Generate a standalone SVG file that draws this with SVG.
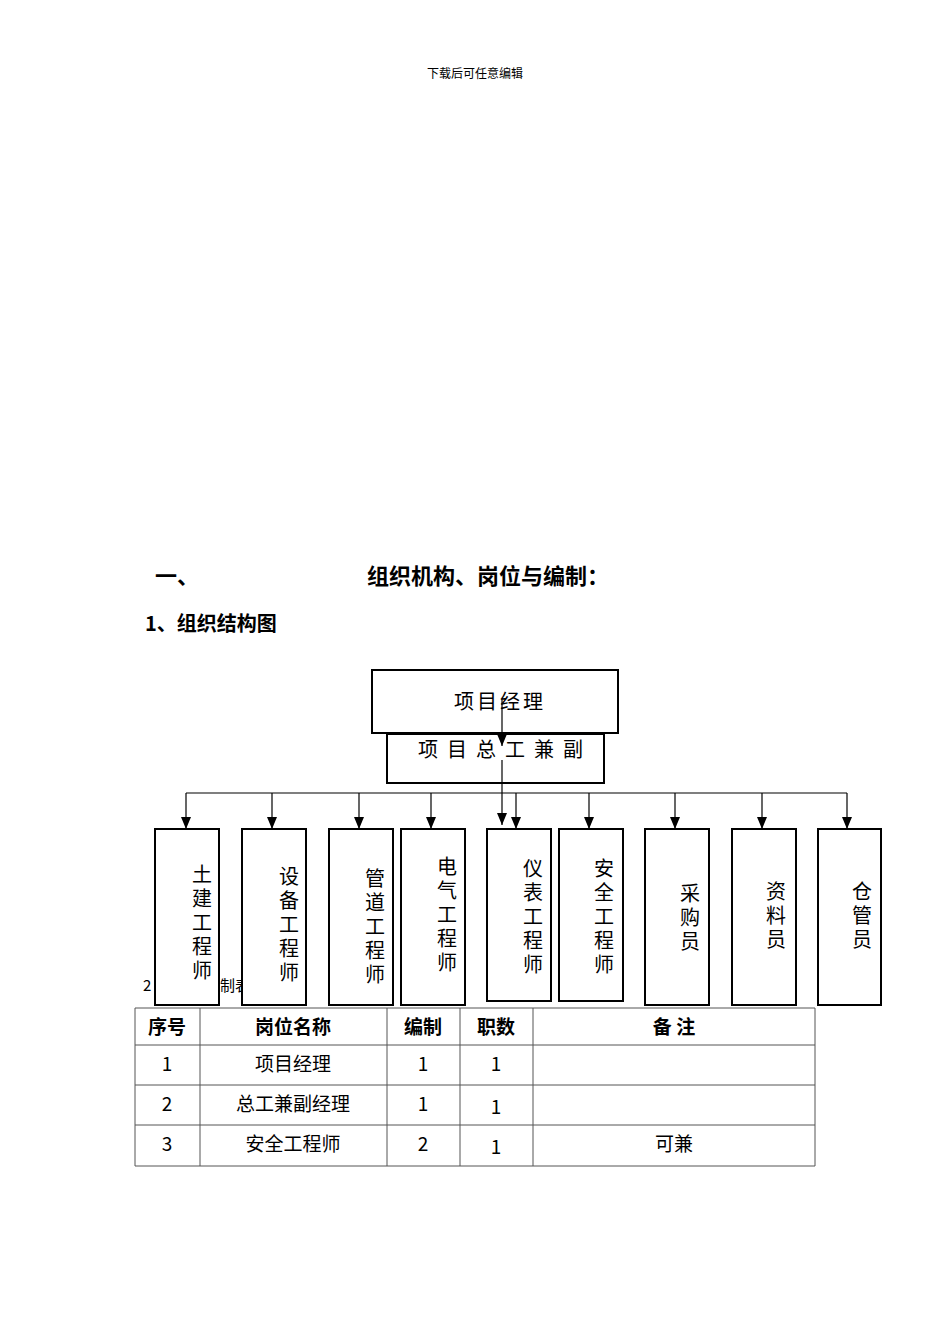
<svg xmlns="http://www.w3.org/2000/svg" width="950" height="1344" viewBox="0 0 950 1344">
<defs>
<marker id="a" markerWidth="12" markerHeight="10" refX="12" refY="5" orient="auto" markerUnits="userSpaceOnUse" viewBox="0 0 12 10"><path d="M0,0 L12,5 L0,10 Z" fill="#000"/></marker>
</defs>
<style>
text{font-family:"Noto Sans CJK SC","Liberation Serif",serif;fill:#000}
.b{fill:#fff;stroke:#000;stroke-width:2}
.v{font-size:20px;text-anchor:middle}
.c{fill:none;stroke:#000;stroke-width:1.2}
.t{font-size:19px;text-anchor:middle}
.h{font-weight:bold;font-size:19px;text-anchor:middle}
.g{fill:none;stroke:#555;stroke-width:1}
</style>
<rect width="950" height="1344" fill="#fff"/>
<text x="475" y="78" font-size="12" text-anchor="middle">下载后可任意编辑</text>
<text x="155" y="584" font-size="22" font-weight="bold">一、</text>
<text x="367" y="584" font-size="22" font-weight="bold">组织机构、岗位与编制：</text>
<text x="145" y="631" font-size="20" font-weight="bold">1、组织结构图</text>
<text x="143" y="991" font-size="15" font-family="Liberation Serif">2</text>
<text x="220" y="991" font-size="15">制表</text>
<g id="n0"><rect class="b" x="372" y="670" width="246" height="63"/><text x="500" y="709" font-size="20" text-anchor="middle" letter-spacing="3">项目经理</text></g>
<g id="n1"><rect class="b" x="387" y="734" width="217" height="49"/><text x="505" y="757" font-size="20" text-anchor="middle" letter-spacing="9">项目总工兼副</text></g>
<g id="n2"><rect class="b" x="155" y="829" width="64" height="176"/><text class="v"><tspan x="202" y="882">土</tspan><tspan x="202" y="906">建</tspan><tspan x="202" y="930">工</tspan><tspan x="202" y="954">程</tspan><tspan x="202" y="978">师</tspan></text></g>
<g id="n3"><rect class="b" x="242" y="829" width="64" height="176"/><text class="v"><tspan x="289" y="884">设</tspan><tspan x="289" y="908">备</tspan><tspan x="289" y="932">工</tspan><tspan x="289" y="956">程</tspan><tspan x="289" y="980">师</tspan></text></g>
<g id="n4"><rect class="b" x="329" y="829" width="64" height="176"/><text class="v"><tspan x="375" y="886">管</tspan><tspan x="375" y="910">道</tspan><tspan x="375" y="934">工</tspan><tspan x="375" y="958">程</tspan><tspan x="375" y="982">师</tspan></text></g>
<g id="n5"><rect class="b" x="401" y="829" width="64" height="176"/><text class="v"><tspan x="447" y="874">电</tspan><tspan x="447" y="898">气</tspan><tspan x="447" y="922">工</tspan><tspan x="447" y="946">程</tspan><tspan x="447" y="970">师</tspan></text></g>
<g id="n6"><rect class="b" x="487" y="829" width="64" height="172"/><text class="v"><tspan x="533" y="876">仪</tspan><tspan x="533" y="900">表</tspan><tspan x="533" y="924">工</tspan><tspan x="533" y="948">程</tspan><tspan x="533" y="972">师</tspan></text></g>
<g id="n7"><rect class="b" x="559" y="829" width="64" height="172"/><text class="v"><tspan x="604" y="876">安</tspan><tspan x="604" y="900">全</tspan><tspan x="604" y="924">工</tspan><tspan x="604" y="948">程</tspan><tspan x="604" y="972">师</tspan></text></g>
<g id="n8"><rect class="b" x="645" y="829" width="64" height="176"/><text class="v"><tspan x="690" y="901">采</tspan><tspan x="690" y="925">购</tspan><tspan x="690" y="949">员</tspan></text></g>
<g id="n9"><rect class="b" x="732" y="829" width="64" height="176"/><text class="v"><tspan x="776" y="899">资</tspan><tspan x="776" y="923">料</tspan><tspan x="776" y="947">员</tspan></text></g>
<g id="n10"><rect class="b" x="818" y="829" width="63" height="176"/><text class="v"><tspan x="862" y="899">仓</tspan><tspan x="862" y="923">管</tspan><tspan x="862" y="947">员</tspan></text></g>
<g id="connectors">
<path class="c" d="M502,700 V746" marker-end="url(#a)"/>
<path class="c" d="M502,760 V825" marker-end="url(#a)"/>
<path class="c" d="M186,793 H847"/>
<path class="c" d="M186,793 V829" marker-end="url(#a)"/>
<path class="c" d="M272,793 V829" marker-end="url(#a)"/>
<path class="c" d="M359,793 V829" marker-end="url(#a)"/>
<path class="c" d="M431,793 V829" marker-end="url(#a)"/>
<path class="c" d="M516,793 V829" marker-end="url(#a)"/>
<path class="c" d="M589,793 V829" marker-end="url(#a)"/>
<path class="c" d="M675,793 V829" marker-end="url(#a)"/>
<path class="c" d="M762,793 V829" marker-end="url(#a)"/>
<path class="c" d="M847,793 V829" marker-end="url(#a)"/>
</g>
<g id="table">
<path class="g" d="M135,1008 H815 M135,1045 H815 M135,1085 H815 M135,1125 H815 M135,1166 H815 M135,1008 V1166 M200,1008 V1166 M387,1008 V1166 M460,1008 V1166 M533,1008 V1166 M815,1008 V1166"/>
<text class="h" x="167" y="1034">序号</text><text class="h" x="293" y="1034">岗位名称</text><text class="h" x="423" y="1034">编制</text><text class="h" x="496" y="1034">职数</text><text class="h" x="674" y="1034">备  注</text>
<text class="t" x="167" y="1071" font-family="Liberation Serif">1</text><text class="t" x="293" y="1071">项目经理</text><text class="t" x="423" y="1071" font-family="Liberation Serif">1</text><text class="t" x="496" y="1071" font-family="Liberation Serif">1</text>
<text class="t" x="167" y="1111" font-family="Liberation Serif">2</text><text class="t" x="293" y="1111">总工兼副经理</text><text class="t" x="423" y="1111" font-family="Liberation Serif">1</text><text class="t" x="496" y="1114" font-family="Liberation Serif">1</text>
<text class="t" x="167" y="1151" font-family="Liberation Serif">3</text><text class="t" x="293" y="1151">安全工程师</text><text class="t" x="423" y="1151" font-family="Liberation Serif">2</text><text class="t" x="496" y="1154" font-family="Liberation Serif">1</text><text class="t" x="674" y="1151">可兼</text>
</g>
</svg>
